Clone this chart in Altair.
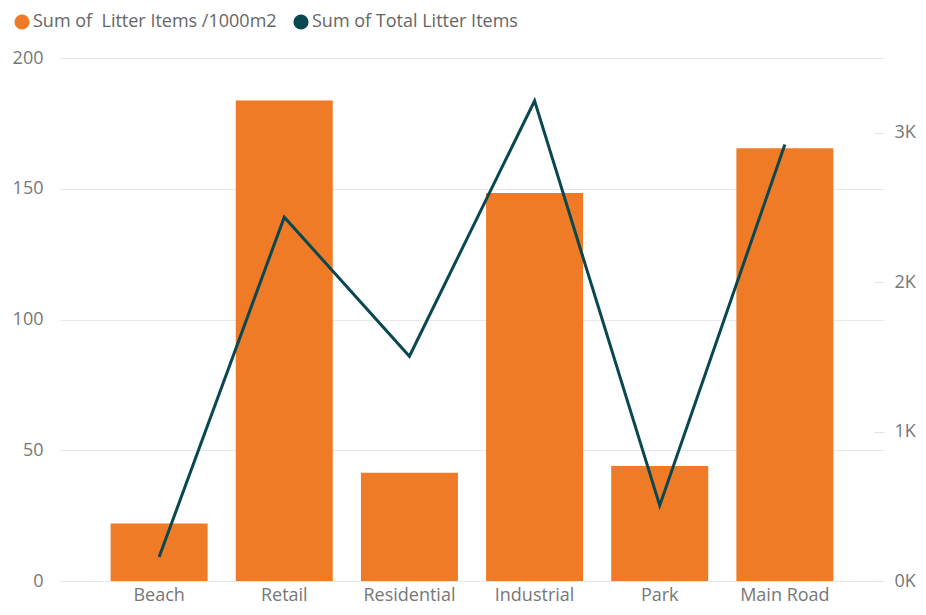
import altair as alt
import pandas as pd

categories = ["Beach", "Retail", "Residential", "Industrial", "Park", "Main Road"]
litter_per_1000m2 = [22.0, 183.7, 41.4, 148.4, 44.0, 165.5]
total_litter = [160, 2435, 1504, 3214, 506, 2921]

bar_name = "Sum of\u00a0 Litter Items /1000m2"
line_name = "Sum of Total Litter Items"

df = pd.DataFrame({
    "Category": categories,
    "per1000": litter_per_1000m2,
    "total": total_litter,
    "bar_series": [bar_name] * len(categories),
    "line_series": [line_name] * len(categories),
})

FONT = "Segoe UI, Open Sans"
ORANGE = "#F07B27"
TEAL = "#0A4851"
LABEL = "#777777"
FS = 18

color_scale = alt.Scale(domain=[bar_name, line_name], range=[ORANGE, TEAL])

x_enc = alt.X(
    "Category:N",
    sort=categories,
    title=None,
    scale=alt.Scale(paddingInner=0.216, paddingOuter=0.4),
    axis=alt.Axis(labelAngle=0, domain=False, ticks=False, grid=False, labelPadding=5,
                  labelFontSize=FS, labelColor=LABEL, labelFont=FONT),
)

bars = alt.Chart(df).mark_bar(size=97).encode(
    x=x_enc,
    y=alt.Y(
        "per1000:Q",
        title=None,
        scale=alt.Scale(domain=[0, 200], nice=False),
        axis=alt.Axis(values=[0, 50, 100, 150, 200], grid=True, gridColor="#E8E8E8",
                      domain=False, ticks=False, labelPadding=17,
                      labelFontSize=FS, labelColor=LABEL, labelFont=FONT),
    ),
    color=alt.Color(
        "bar_series:N",
        scale=color_scale,
        legend=alt.Legend(
            title=None, orient="none", legendX=-47, legendY=-45, direction="horizontal",
            symbolType="circle", symbolSize=230, symbolStrokeWidth=0,
            labelFontSize=FS, labelColor="#666666", labelFont=FONT,
            columnPadding=15, labelOffset=2, labelLimit=400,
        ),
    ),
)

line = alt.Chart(df).mark_line(strokeWidth=3).encode(
    x=alt.X("Category:N", sort=categories),
    y=alt.Y(
        "total:Q",
        title=None,
        scale=alt.Scale(domain=[0, 3500], nice=False),
        axis=alt.Axis(orient="right", values=[0, 1000, 2000, 3000],
                      labelExpr="(datum.value / 1000) + 'K'",
                      grid=False, domain=False, ticks=True, tickSize=10,
                      tickColor="#E3E3E3", offset=-10, labelPadding=10,
                      labelFontSize=FS, labelColor=LABEL, labelFont=FONT),
    ),
    color=alt.Color("line_series:N", scale=color_scale),
)

chart = (
    alt.layer(bars, line)
    .resolve_scale(y="independent")
    .properties(
        width=824,
        height=523,
        autosize=alt.AutoSizeParams(type="none"),
        padding={"left": 52, "top": 50, "right": 34, "bottom": 26},
        view=alt.ViewBackground(stroke="transparent", strokeWidth=0),
    )
    .configure_view(strokeWidth=0, stroke="transparent")
    .configure_axis(domain=False)
    .configure(font=FONT)
)

chart.save("out.html", embed_options={"renderer": "svg", "actions": False})
